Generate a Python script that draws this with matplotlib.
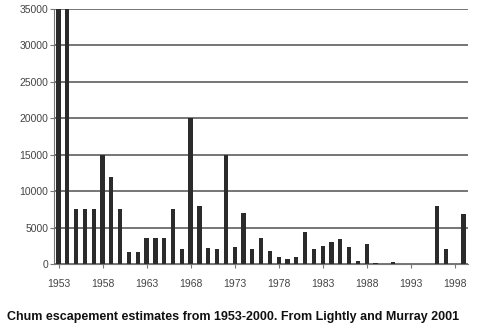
import matplotlib.pyplot as plt
import numpy as np

# chum escapement by year
years = list(range(1953, 2000))
escapement = [35000, 35000, 7500, 7500, 7500, 15000, 12000, 7500, 1600, 1600,
              3500, 3500, 3500, 7500, 2100, 20000, 8000, 2200, 2100, 15000,
              2300, 7000, 2100, 3500, 1750, 1000, 700, 1000, 4400, 2000,
              2500, 3000, 3400, 2300, 350, 2700, 200, 0, 300, 0,
              0, 0, 0, 8000, 2100, 0, 6800]
tick_years = list(range(1953, 2000, 5))
y_ticks = list(range(0, 35001, 5000))

plt.rcParams['font.family'] = ['Liberation Sans', 'DejaVu Sans']

fig = plt.figure(figsize=(4.79, 3.35), dpi=100)
ax = fig.add_axes([0.113, 0.212, 0.864, 0.761])

x = np.arange(len(years))
ax.bar(x, escapement, width=0.48, color='#2b2b2b', zorder=3)

ax.set_xlim(-0.5, len(years) - 0.5)
ax.set_ylim(0, 35000)
ax.set_yticks(y_ticks)
ax.set_yticklabels([str(v) for v in y_ticks], fontsize=7.5, color='#444444')
ax.set_xticks([years.index(t) for t in tick_years])
ax.set_xticklabels([str(t) for t in tick_years], fontsize=7.5, color='#444444')

ax.grid(axis='y', color='#6a6a6a', linewidth=1.3, zorder=0)
for side in ['top', 'right']:
    ax.spines[side].set_visible(False)
ax.spines['left'].set_color('#777777')
ax.spines['bottom'].set_color('#777777')
ax.tick_params(axis='y', length=3, color='#777777', pad=1)
ax.tick_params(axis='x', length=3, color='#777777', pad=8)

fig.text(0.015, 0.055, 'Chum escapement estimates from 1953-2000. From Lightly and Murray 2001',
         fontsize=9.0, fontweight='bold', color='#111111', ha='left', va='center')

fig.savefig('out.png', dpi=100, facecolor='white')
